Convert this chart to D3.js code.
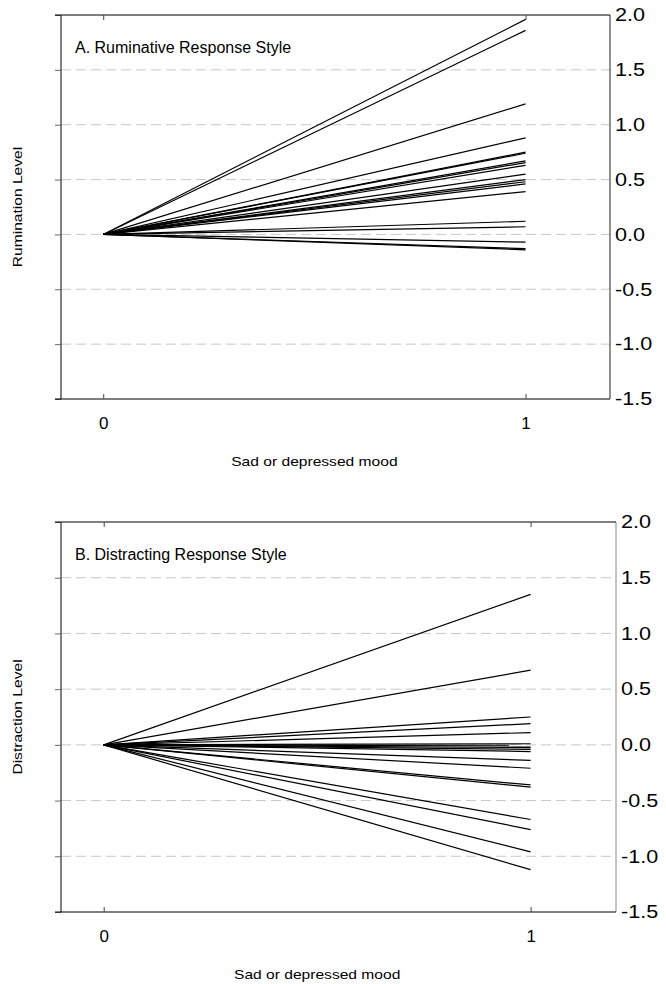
<!DOCTYPE html>
<html>
<head>
  <meta charset="utf-8">
  <title>Rumination and Distraction by Mood</title>
  <script src="https://d3js.org/d3.v7.min.js"></script>
  <style>
    body { margin: 0; background: #fff; }
    svg text { font-family: "Liberation Sans", Arial, sans-serif; fill: #000; }
  </style>
</head>
<body>

<div id="chart"></div>

<script>
// Slopes: each line runs from (0, 0) to (1, value)
const xTicks = [0, 1];
const yTicks = [-1.5, -1.0, -0.5, 0.0, 0.5, 1.0, 1.5, 2.0];

const ruminationEnds = [1.96, 1.86, 1.19, 0.88, 0.75, 0.74, 0.67, 0.655, 0.63,
  0.55, 0.50, 0.48, 0.46, 0.39, 0.12, 0.07, -0.07, -0.13, -0.14];

const distractionEnds = [1.35, 0.67, 0.25, 0.19, 0.11, 0.01, -0.01, -0.025, -0.04,
  -0.06, -0.14, -0.21, -0.36, -0.38, -0.67, -0.76, -0.96, -1.12];

const panels = [
  { title: "A. Ruminative Response Style", yLabel: "Rumination Level", ends: ruminationEnds,
    left: 61, right: 610, top: 15, bottom: 399, rightColor: "#222" },
  { title: "B. Distracting Response Style", yLabel: "Distraction Level", ends: distractionEnds,
    left: 61, right: 616, top: 522, bottom: 912, rightColor: "#888" }
];

// the original text is a bit wider than Arial, so stretch it along the baseline
const stretch = 1.2;
const fmt = d => d.toFixed(1);

const svg = d3.select("#chart")
  .append("svg")
  .attr("width", 666)
  .attr("height", 984);

panels.forEach(p => {
  const x = d3.scaleLinear().domain([-0.1, 1.2]).range([p.left, p.right]);
  const y = d3.scaleLinear().domain([-1.5, 2.0]).range([p.bottom, p.top]);
  const g = svg.append("g");

  // dashed grid lines
  g.selectAll(".grid")
    .data(yTicks.filter(t => t > -1.5 && t < 2.0))
    .enter().append("line")
    .attr("x1", p.left).attr("x2", p.right)
    .attr("y1", d => y(d)).attr("y2", d => y(d))
    .attr("stroke", "#c8c8c8")
    .attr("stroke-width", 1)
    .attr("stroke-dasharray", "10,5");

  // left axis: short outward ticks, no labels
  g.append("g")
    .attr("transform", `translate(${p.left},0)`)
    .call(d3.axisLeft(y).tickValues(yTicks).tickSize(6).tickFormat(""))
    .call(a => a.select(".domain").attr("stroke", "#000").attr("d", `M0,${p.top}V${p.bottom}`))
    .call(a => a.selectAll(".tick line").attr("stroke", "#666"));

  // right axis: labels only
  g.append("g")
    .attr("transform", `translate(${p.right},0)`)
    .call(d3.axisRight(y).tickValues(yTicks).tickSize(0).tickFormat(fmt))
    .call(a => a.select(".domain").attr("stroke", p.rightColor).attr("d", `M0,${p.top}V${p.bottom}`))
    .call(a => a.selectAll("text")
      .attr("font-size", 18)
      .attr("font-family", "Liberation Sans, Arial, sans-serif")
      .attr("x", 5 / stretch)
      .attr("transform", `scale(${stretch},1)`));

  // bottom axis: inward ticks
  g.append("g")
    .attr("transform", `translate(0,${p.bottom})`)
    .call(d3.axisBottom(x).tickValues(xTicks).tickSize(-5).tickPadding(18).tickFormat(d3.format("d")))
    .call(a => a.select(".domain").attr("stroke", "#000").attr("d", `M${p.left - 6},0H${p.right}`))
    .call(a => a.selectAll(".tick line").attr("stroke", "#444"))
    .call(a => a.selectAll("text").attr("font-size", 17).attr("font-family", "Liberation Sans, Arial, sans-serif"));

  // top axis: inward ticks
  g.append("g")
    .attr("transform", `translate(0,${p.top})`)
    .call(d3.axisTop(x).tickValues(xTicks).tickSize(-5).tickFormat(""))
    .call(a => a.select(".domain").attr("stroke", "#000").attr("d", `M${p.left - 6},0H${p.right}`))
    .call(a => a.selectAll(".tick line").attr("stroke", "#444"));

  // individual lines
  g.selectAll(".slope")
    .data(p.ends)
    .enter().append("path")
    .attr("fill", "none")
    .attr("stroke", "#000")
    .attr("stroke-width", 1.2)
    .attr("d", v => d3.line().x(d => x(d[0])).y(d => y(d[1]))([[0, 0], [1, v]]));

  // titles
  g.append("text")
    .attr("x", p.left + 14)
    .attr("y", p.top + 38)
    .attr("font-size", 16)
    .text(p.title);

  g.append("text")
    .attr("transform", `translate(22,${(p.top + p.bottom) / 2}) rotate(-90) scale(${stretch},1)`)
    .attr("text-anchor", "middle")
    .attr("font-size", 13)
    .text(p.yLabel);

  g.append("text")
    .attr("transform", `translate(${(x(0) + x(1)) / 2},${p.bottom + 67}) scale(${stretch},1)`)
    .attr("text-anchor", "middle")
    .attr("font-size", 13)
    .text("Sad or depressed mood");
});
</script>

</body>
</html>
